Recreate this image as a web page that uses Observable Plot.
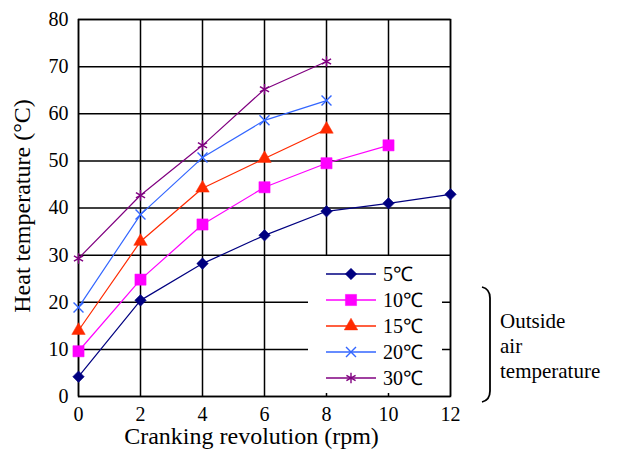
<!DOCTYPE html>
<html>
<head>
<meta charset="utf-8">
<script src="https://cdn.jsdelivr.net/npm/d3@7"></script>
<script src="https://cdn.jsdelivr.net/npm/@observablehq/plot@0.6"></script>
<style>
  html, body { margin: 0; padding: 0; background: #fff; }
  #chart svg { display: block; }
</style>
</head>
<body>
<div id="chart"></div>
<script>
// ---- Data ----
const revolutions = [0, 2, 4, 6, 8, 10, 12];
const seriesNames = ["5℃", "10℃", "15℃", "20℃", "30℃"];
const temp5  = [4.2, 20.4, 28.2, 34.2, 39.3, 41.0, 42.9];
const temp10 = [9.6, 24.8, 36.5, 44.4, 49.5, 53.3];
const temp15 = [14.0, 32.9, 44.2, 50.5, 56.7];
const temp20 = [18.9, 38.6, 50.7, 58.6, 62.8];
const temp30 = [29.3, 42.7, 53.3, 65.2, 71.1];
const xTicks = [0, 2, 4, 6, 8, 10, 12];
const yTicks = [0, 10, 20, 30, 40, 50, 60, 70, 80];
const xLabel = "Cranking revolution (rpm)";
const yLabel = "Heat temperature (°C)";
const sideNote = ["Outside", "air", "temperature"];

// ---- Styles ----
const styles = [
  {color: "#000080", symbol: "diamond2", filled: true,  r: 5.2},
  {color: "#ff00ff", symbol: "square",   filled: true,  r: 6.3},
  {color: "#ff2a00", symbol: "triangle", filled: true,  r: 5.0},
  {color: "#3366ff", symbol: "times",    filled: false, r: 4.6},
  {color: "#800080", symbol: "asterisk", filled: false, r: 5.0}
];
const allValues = [temp5, temp10, temp15, temp20, temp30];
const series = allValues.map((vals, i) => ({
  name: seriesNames[i],
  style: styles[i],
  data: vals.map((v, j) => ({x: revolutions[j], y: v}))
}));

const font = "'Liberation Serif', 'Times New Roman', Times, serif";
const marks = [
  Plot.gridX(xTicks, {stroke: "black", strokeOpacity: 1, strokeWidth: 1.5}),
  Plot.gridY(yTicks, {stroke: "black", strokeOpacity: 1, strokeWidth: 1.5}),
  Plot.frame({stroke: "black", strokeWidth: 1.5}),
  Plot.axisX(xTicks, {tickSize: 0, tickPadding: 10, label: null, fontSize: 20, fontFamily: font}),
  Plot.axisY(yTicks, {tickSize: 0, tickPadding: 10, label: null, fontSize: 20, fontFamily: font}),
  Plot.text([yLabel], {text: d => d, frameAnchor: "left", textAnchor: "middle", rotate: -90, dx: -56, dy: -2, fontSize: 24, fontFamily: font}),
  Plot.text([xLabel], {text: d => d, frameAnchor: "bottom", textAnchor: "middle", dx: -13, dy: 47, fontSize: 24, fontFamily: font})
];
for (const s of series) {
  marks.push(Plot.line(s.data, {x: "x", y: "y", stroke: s.style.color, strokeWidth: 1.2}));
  marks.push(Plot.dot(s.data, {
    x: "x", y: "y", symbol: () => s.style.symbol, r: s.style.r,
    fill: s.style.filled ? s.style.color : "none",
    stroke: s.style.color, strokeWidth: s.style.filled ? 0.5 : 1.4
  }));
}

const chart = Plot.plot({
  width: 618,
  height: 450,
  marginLeft: 78,
  marginRight: 168,
  marginTop: 19,
  marginBottom: 54,
  style: {fontFamily: font, color: "black", background: "white", overflow: "visible"},
  x: {domain: [0, 12]},
  y: {domain: [0, 80]},
  symbol: {type: "identity"},
  marks
});
document.getElementById("chart").appendChild(chart);

// ---- Legend & side note ----
const svg = d3.select(chart);
const lg = svg.append("g").attr("font-family", font).attr("text-anchor", "start");
lg.append("rect").attr("x", 308).attr("y", 256).attr("width", 134).attr("height", 137).attr("fill", "white");
const symbolMap = {
  diamond2: d3.symbolDiamond2, square: d3.symbolSquare, triangle: d3.symbolTriangle,
  times: d3.symbolTimes, asterisk: d3.symbolAsterisk
};
series.forEach((s, i) => {
  const y = 274 + i * 26;
  lg.append("line").attr("x1", 326).attr("x2", 376).attr("y1", y).attr("y2", y)
    .attr("stroke", s.style.color).attr("stroke-width", 1.5);
  lg.append("path")
    .attr("d", d3.symbol(symbolMap[s.style.symbol], Math.PI * s.style.r * s.style.r)())
    .attr("transform", `translate(351,${y})`)
    .attr("fill", s.style.filled ? s.style.color : "none")
    .attr("stroke", s.style.color).attr("stroke-width", s.style.filled ? 0.5 : 1.4);
  lg.append("text").attr("x", 383).attr("y", y).attr("dy", "0.35em")
    .attr("font-size", 20).attr("fill", "black").text(s.name);
});
// brace
svg.append("path")
  .attr("d", "M482,287 Q490,289 490,298 L490,391 Q490,400 482,402")
  .attr("fill", "none").attr("stroke", "black").attr("stroke-width", 1.8);
const note = svg.append("g").attr("font-family", font).attr("text-anchor", "start");
sideNote.forEach((t, i) => {
  note.append("text").attr("x", 500).attr("y", 328 + i * 25)
    .attr("font-size", 21).attr("fill", "black").text(t);
});
</script>
</body>
</html>
